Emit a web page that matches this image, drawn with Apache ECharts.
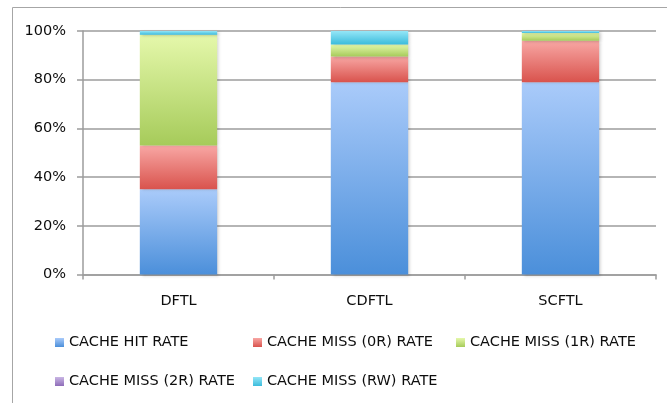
<!DOCTYPE html>
<html>
<head>
<meta charset="utf-8">
<script src="https://cdn.jsdelivr.net/npm/echarts@6/dist/echarts.min.js"></script>
<style>
  html, body { margin: 0; padding: 0; background: #fff; }
  #chart { width: 667px; height: 403px; }
</style>
</head>
<body>
<div id="chart"></div>
<script>
// Cache outcome shares per FTL scheme (percent of requests)
const categories = ['DFTL', 'CDFTL', 'SCFTL'];
const seriesNames = ['CACHE HIT RATE', 'CACHE MISS (0R) RATE', 'CACHE MISS (1R) RATE', 'CACHE MISS (2R) RATE', 'CACHE MISS (RW) RATE'];
const hitRate   = [35, 79, 79];
const miss0R    = [18, 10.5, 17];
const miss1R    = [45.5, 5, 3.2];
const miss2R    = [0, 0, 0];
const missRW    = [1.5, 5.5, 0.8];
const yTicks    = [0, 20, 40, 60, 80, 100];

const FONT = 'DejaVu Sans';
const FONT_SIZE = 14.5;
const seriesValues = [hitRate, miss0R, miss1R, miss2R, missRW];

// top / bottom colours of each vertical gradient
const palette = [
  ['#aacbfa', '#4b8fda'],
  ['#f8a7a4', '#d9534d'],
  ['#e5f8ab', '#a6cb5a'],
  ['#c9b6e4', '#8e6cb8'],
  ['#94e6f7', '#3cbcdc']
];
const grad = (c) => new echarts.graphic.LinearGradient(0, 0, 0, 1, [
  { offset: 0, color: c[0] }, { offset: 1, color: c[1] }
]);

const series = seriesNames.map((name, i) => ({
  name: name,
  type: 'bar',
  stack: 'total',
  barWidth: '40.5%',
  data: seriesValues[i],
  itemStyle: {
    color: grad(palette[i]),
    shadowColor: 'rgba(0,0,0,0.18)',
    shadowBlur: 3,
    shadowOffsetX: 2,
    shadowOffsetY: 1
  },
  emphasis: { disabled: true }
}));

// legend laid out in two rows, three fixed columns
const legendPos = [
  { left: 50, top: 330 }, { left: 248, top: 330 }, { left: 451, top: 330 },
  { left: 50, top: 369 }, { left: 248, top: 369 }
];
const legends = seriesNames.map((name, i) => ({
  data: [{ name: name, icon: 'rect', itemStyle: { color: grad(palette[i]) } }],
  left: legendPos[i].left,
  top: legendPos[i].top,
  itemWidth: 9,
  itemHeight: 9,
  itemGap: 4,
  selectedMode: false,
  textStyle: { fontFamily: FONT, fontSize: FONT_SIZE, color: '#0d0d0d', padding: [0, 0, 0, 0] }
}));

const chart = echarts.init(document.getElementById('chart'), null, { renderer: 'canvas' });
chart.setOption({
  animation: false,
  backgroundColor: '#fff',
  grid: { left: 83, right: 11, top: 31, bottom: 128.5 },
  graphic: [{
    type: 'rect',
    shape: { x: 12.5, y: 7.5, width: 700, height: 430 },
    style: { fill: 'none', stroke: '#a6a6a6', lineWidth: 1 },
    silent: true,
    z: -10
  }],
  legend: legends,
  xAxis: {
    type: 'category',
    data: categories,
    axisLine: { lineStyle: { color: '#9c9c9c', width: 1.5 } },
    axisTick: { show: true, alignWithLabel: false, length: 5, lineStyle: { color: '#9c9c9c', width: 1.5 } },
    axisLabel: { fontFamily: FONT, fontSize: FONT_SIZE, color: '#0d0d0d', margin: 19 }
  },
  yAxis: {
    type: 'value',
    min: yTicks[0],
    max: yTicks[yTicks.length - 1],
    interval: 20,
    axisLine: { show: true, lineStyle: { color: '#9c9c9c', width: 1.5 } },
    axisTick: { show: true, length: 6, lineStyle: { color: '#9c9c9c', width: 1.5 } },
    splitLine: { lineStyle: { color: '#9c9c9c', width: 1.5 } },
    axisLabel: { fontFamily: FONT, fontSize: FONT_SIZE, color: '#0d0d0d', margin: 17, formatter: '{value}%' }
  },
  series: series
});
</script>
</body>
</html>
